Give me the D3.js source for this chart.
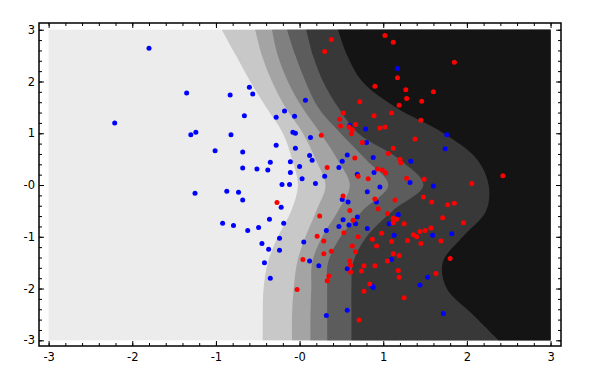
<!DOCTYPE html>
<html>
<head>
<meta charset="utf-8">
<script src="https://cdn.jsdelivr.net/npm/d3@7"></script>
<style>
  body { margin: 0; background: #fff; }
  svg { display: block; }
</style>
</head>
<body>
<div class="chart"></div>
<script>
// contour band edges: x position of each level boundary at the given y values
let levelY = [3, 2.5, 2, 1.5, 1, 0.5, 0, -0.5, -1, -1.5, -2, -2.5, -3]
let edge1 = [-0.93, -0.76, -0.59, -0.40, -0.20, -0.09, -0.02, -0.10, -0.26, -0.38, -0.43, -0.44, -0.44]
let edge2 = [-0.53, -0.45, -0.33, -0.17, 0.04, 0.19, 0.31, 0.20, 0.07, -0.03, -0.07, -0.09, -0.09]
let edge3 = [-0.33, -0.26, -0.14, 0.03, 0.25, 0.45, 0.60, 0.46, 0.27, 0.15, 0.14, 0.13, 0.13]
let edge4 = [-0.15, -0.05, 0.07, 0.22, 0.49, 0.79, 1.06, 0.75, 0.49, 0.34, 0.33, 0.33, 0.33]
let edge5 = [0.08, 0.16, 0.28, 0.46, 0.70, 1.19, 1.48, 1.11, 0.80, 0.64, 0.62, 0.62, 0.62]
let edge6 = [0.46, 0.57, 0.75, 1.15, 1.72, 2.12, 2.26, 2.23, 1.95, 1.71, 1.76, 2.07, 2.38]
let shades = ['#ececec', '#c8c8c8', '#a4a4a4', '#808080', '#5c5c5c', '#383838', '#141414']

let bluePts = [
  [-1.80,2.64],[-2.21,1.20],[-1.35,1.78],[-1.30,0.97],[-1.24,1.02],[-0.83,1.74],[-0.60,1.89],[-0.56,1.76],
  [-0.66,1.34],[-0.82,0.97],[-1.01,0.66],[-0.68,0.64],[-0.68,0.33],[-0.51,0.31],[-0.38,0.29],[-0.35,0.44],
  [-0.28,0.77],[-0.28,1.31],[-0.18,1.43],[-0.06,1.33],[-0.08,1.02],[-0.05,1.00],[-0.05,0.71],[-0.11,0.45],
  [-0.11,0.24],[0.00,0.36],[-0.21,0.01],[-0.12,0.01],[-1.25,-0.16],[-0.87,-0.12],[-0.73,-0.14],[-0.68,-0.29],
  [-0.22,-0.43],[-0.92,-0.74],[-0.79,-0.78],[-0.62,-0.88],[-0.49,-0.82],[-0.36,-0.66],[-0.19,-0.74],[-0.24,-1.03],
  [-0.45,-1.13],[-0.37,-1.24],[-0.24,-1.26],[-0.42,-1.50],[-0.35,-1.80],[0.07,1.64],[1.17,2.25],[0.60,1.15],
  [0.79,1.08],[0.80,0.82],[1.76,0.97],[1.74,0.70],[0.13,0.92],[0.12,0.57],[0.15,0.48],[0.57,0.58],
  [0.51,0.46],[0.88,0.53],[0.47,0.34],[0.30,0.17],[0.69,0.21],[0.89,0.24],[1.33,0.46],[1.32,0.05],
  [1.60,-0.02],[0.96,-0.04],[0.19,0.03],[0.03,0.12],[0.05,-1.10],[0.32,-0.88],[0.51,-0.28],[0.58,-0.33],
  [0.52,-0.67],[0.47,-0.80],[0.59,-0.77],[0.69,-0.62],[0.67,-0.75],[0.12,-1.47],[0.81,-0.13],[0.92,-0.33],
  [1.18,-0.57],[1.07,-0.75],[0.81,-0.84],[1.13,-0.97],[1.59,-0.97],[1.82,-0.94],[1.10,-1.44],[0.23,-1.56],
  [0.57,-1.62],[0.32,-2.52],[0.57,-2.42],[0.87,-1.95],[0.88,-1.98],[1.44,-1.93],[1.53,-1.78],[1.72,-2.48]
]
let redPts = [
  [0.38,2.81],[0.30,2.58],[1.02,2.89],[1.12,2.76],[1.85,2.37],[1.17,2.07],[0.90,1.91],[1.27,1.84],
  [1.60,1.80],[1.28,1.67],[1.46,1.62],[0.72,1.61],[1.19,1.54],[1.10,1.39],[0.52,1.39],[0.48,1.27],
  [0.89,1.34],[1.45,1.25],[0.49,1.14],[0.67,1.17],[0.59,1.12],[0.63,1.07],[0.62,0.99],[0.96,1.10],
  [1.02,1.12],[0.26,0.96],[1.38,0.89],[0.75,0.82],[1.12,0.71],[1.06,0.61],[0.66,0.52],[1.20,0.50],
  [1.21,0.43],[0.33,0.34],[0.93,0.31],[0.99,0.29],[1.03,0.23],[0.70,0.17],[0.82,0.12],[1.28,0.13],
  [1.49,0.11],[2.06,0.03],[2.43,0.18],[-0.27,-0.34],[-0.03,-2.02],[0.52,-0.21],[0.24,-0.60],[0.60,-0.49],
  [0.64,-0.68],[0.70,-1.00],[0.53,-0.92],[0.21,-0.99],[0.29,-1.08],[0.63,-1.18],[0.67,-1.29],[0.38,-1.28],
  [0.29,-1.33],[0.60,-1.47],[0.61,-1.55],[0.61,-1.68],[0.04,-1.44],[0.90,-0.27],[1.14,-0.29],[1.48,-0.23],
  [1.58,-0.33],[1.77,-0.38],[1.85,-0.35],[0.94,-0.46],[1.05,-0.55],[1.12,-0.64],[1.16,-0.66],[1.12,-0.73],
  [1.25,-0.75],[1.71,-0.63],[1.96,-0.73],[0.98,-0.93],[1.36,-0.96],[1.40,-1.00],[1.44,-0.90],[1.50,-0.88],
  [1.57,-0.83],[0.87,-1.05],[1.10,-1.09],[1.29,-1.07],[1.45,-1.13],[1.69,-1.08],[0.92,-1.18],[1.12,-1.33],
  [1.19,-1.36],[1.05,-1.47],[1.80,-1.42],[0.77,-1.56],[0.90,-1.56],[0.74,-1.66],[1.18,-1.65],[1.19,-1.78],
  [1.63,-1.71],[0.35,-1.76],[0.33,-1.85],[0.84,-1.91],[0.77,-2.05],[1.25,-2.18],[0.71,-2.61]
]
let majorTicks = [-3, -2, -1, 0, 1, 2, 3]
let xTickLabels = ['-3', '-2', '-1', '-0', '1', '2', '3']
let yTickLabels = ['-3', '-2', '-1', '-0', '1', '2', '3']
let minorTicks = d3.range(-15, 16).map(i => i / 5)

let w = 600, h = 370
let padL = 39, padR = 561, padT = 23, padB = 346
let xScale = d3.scaleLinear().domain([-3.115, 3.125]).range([padL, padR])
let yScale = d3.scaleLinear().domain([-3.11, 3.13]).range([padB, padT])

let svg = d3.select('.chart').append('svg').attr('width', w).attr('height', h)

// filled contour bands
let bands = svg.append('g')
bands.append('rect')
  .attr('x', xScale(-3)).attr('y', yScale(3))
  .attr('width', xScale(3) - xScale(-3)).attr('height', yScale(-3) - yScale(3))
  .attr('fill', shades[0])
let area = d3.area()
  .curve(d3.curveCatmullRom)
  .y((d, i) => yScale(levelY[i]))
  .x0(d => xScale(d))
  .x1(xScale(3))
let edges = [edge1, edge2, edge3, edge4, edge5, edge6]
edges.forEach((e, k) => {
  bands.append('path').attr('d', area(e)).attr('fill', shades[k + 1])
})

// points
svg.append('g').selectAll('circle').data(bluePts).enter().append('circle')
  .attr('cx', d => xScale(d[0])).attr('cy', d => yScale(d[1])).attr('r', 2.5).attr('fill', '#0000ff')
svg.append('g').selectAll('circle').data(redPts).enter().append('circle')
  .attr('cx', d => xScale(d[0])).attr('cy', d => yScale(d[1])).attr('r', 2.5).attr('fill', '#ff0000')

// axes: ticks point inward on all four sides
function addAxis(axis, tx, ty, size, labels) {
  let g = svg.append('g').attr('transform', 'translate(' + tx + ',' + ty + ')')
    .call(axis.tickSize(-size).tickFormat((d, i) => labels ? labels[i] : ''))
  g.select('.domain').remove()
  g.selectAll('line').attr('stroke', '#000').attr('stroke-width', 1)
  g.selectAll('text').attr('font-family', 'DejaVu Sans').attr('font-size', 11.5).attr('fill', '#000')
  return g
}
addAxis(d3.axisBottom(xScale).tickValues(majorTicks).tickPadding(7), 0, padB, 5, xTickLabels)
addAxis(d3.axisBottom(xScale).tickValues(minorTicks), 0, padB, 3)
addAxis(d3.axisTop(xScale).tickValues(majorTicks), 0, padT, 5)
addAxis(d3.axisTop(xScale).tickValues(minorTicks), 0, padT, 3)
addAxis(d3.axisLeft(yScale).tickValues(majorTicks).tickPadding(4), padL, 0, 5, yTickLabels)
addAxis(d3.axisLeft(yScale).tickValues(minorTicks), padL, 0, 3)
addAxis(d3.axisRight(yScale).tickValues(majorTicks), padR, 0, 5)
addAxis(d3.axisRight(yScale).tickValues(minorTicks), padR, 0, 3)

svg.append('rect').attr('x', padL).attr('y', padT)
  .attr('width', padR - padL).attr('height', padB - padT)
  .attr('fill', 'none').attr('stroke', '#000').attr('stroke-width', 1.5)
</script>
</body>
</html>
